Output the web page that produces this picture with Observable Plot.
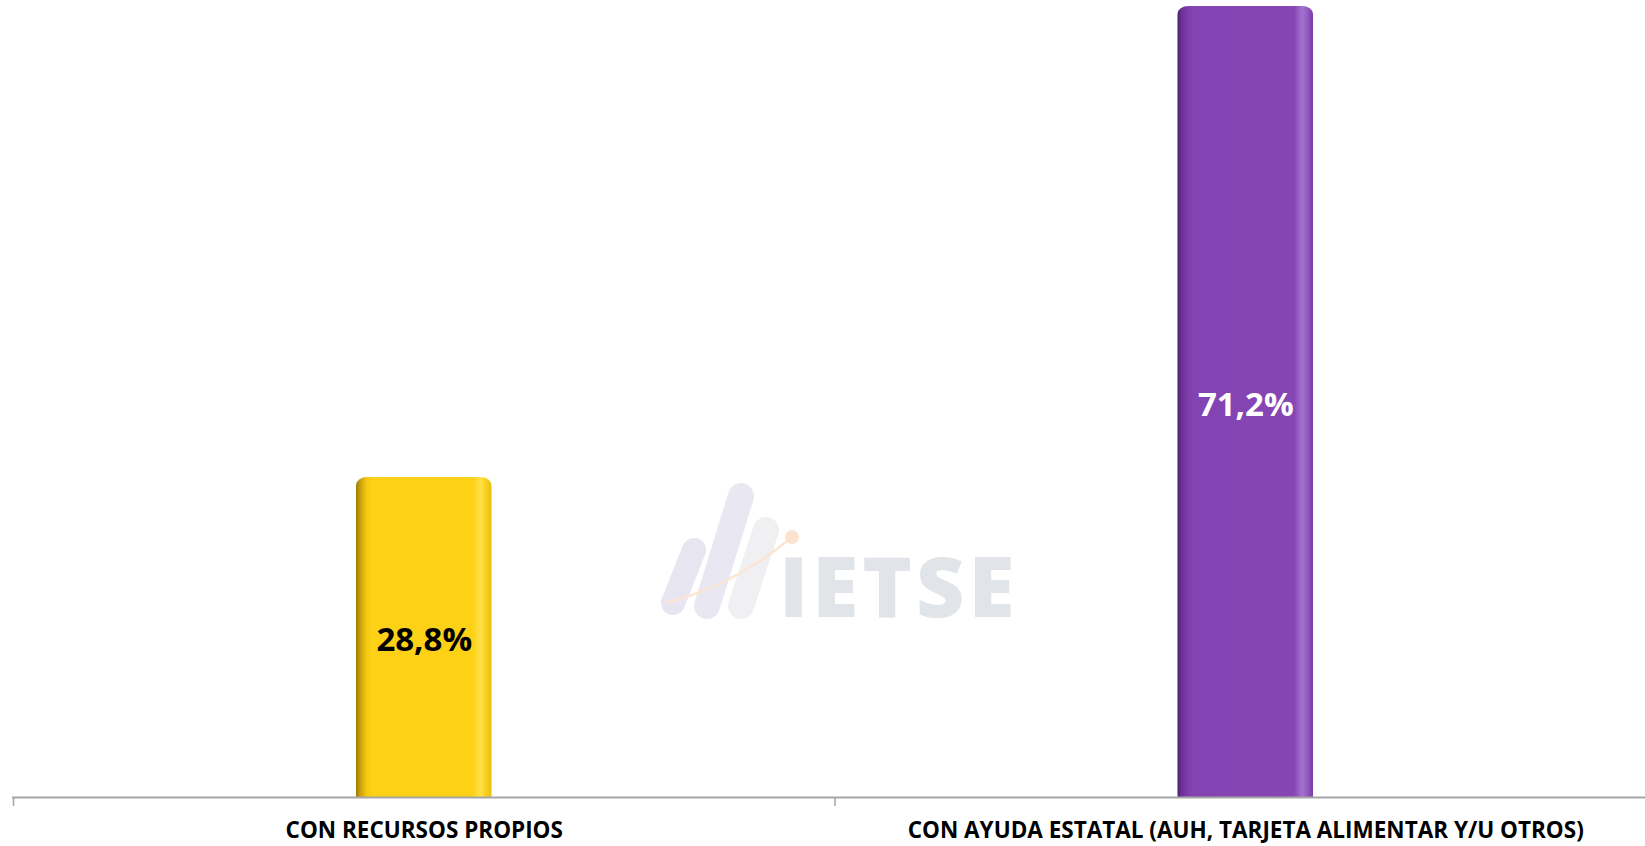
<!DOCTYPE html>
<html>
<head>
<meta charset="utf-8">
<script src="https://cdn.jsdelivr.net/npm/d3@7"></script>
<script src="https://cdn.jsdelivr.net/npm/@observablehq/plot@0.6"></script>
<style>
  html, body { margin: 0; padding: 0; background: #ffffff; }
  #wrap { position: relative; width: 1645px; height: 846px; overflow: hidden; }
  #wm { position: absolute; left: 0; top: 0; pointer-events: none; }
</style>
</head>
<body>
<div id="wrap"></div>
<script>
// ---- data ----
const categories = ["CON RECURSOS PROPIOS", "CON AYUDA ESTATAL (AUH, TARJETA ALIMENTAR Y/U OTROS)"];
const values = [28.8, 71.2];
const valueLabels = ["28,8%", "71,2%"];
const labelColors = ["#000000", "#ffffff"];

// ---- styles (gradient stops per bar) ----
const barGradients = [
  [[0, "#9c7a06"], [0.03, "#c99f0b"], [0.08, "#f6c912"], [0.12, "#fdd116"], [0.86, "#fdd116"], [0.92, "#ffe14a"], [0.96, "#f9cf18"], [1, "#e8be12"]],
  [[0, "#4a2172"], [0.03, "#6a3196"], [0.08, "#7e3fad"], [0.12, "#8443b2"], [0.86, "#8646b4"], [0.92, "#a273cf"], [0.96, "#9459c2"], [1, "#7a3aa6"]]
];

const data = categories.map((c, i) => ({i, c, v: values[i], label: valueLabels[i], color: labelColors[i]}));

const chart = Plot.plot({
  width: 1645,
  height: 846,
  marginTop: 6,
  marginBottom: 49,
  marginLeft: 12,
  marginRight: 0,
  style: {fontFamily: "'Open Sans', sans-serif", background: "#ffffff", overflow: "visible"},
  x: {domain: [0, 2], range: [13, 1656], axis: null},
  y: {domain: [0, 71.2], axis: null},
  color: {type: "identity"},
  marks: [
    Plot.rect(data, {
      x1: d => d.i, x2: d => d.i + 1, y1: () => 0, y2: "v",
      fill: d => `url(#bargrad${d.i})`,
      insetLeft: 343, insetRight: 343, insetBottom: -14,
      rx: 11, ry: 8, clip: true
    }),
    Plot.ruleY([0], {stroke: "#a6a6a6", strokeWidth: 2}),
    Plot.axisX({ticks: [0, 1, 2], tickSize: 9, tickFormat: () => "", stroke: "#a6a6a6", strokeWidth: 1.5, label: null}),
    Plot.axisX({
      ticks: categories.map((c, i) => i + 0.5), tickSize: 0, tickPadding: 25,
      tickFormat: x => categories[Math.floor(x)],
      fontSize: 22.5, fontWeight: "bold", fill: "#000000", label: null
    }),
    Plot.text(data, {
      x: d => d.i + 0.5, y: d => d.v / 2, text: "label",
      fill: "color", fontSize: 33, fontWeight: "bold", dy: 3
    })
  ]
});

// gradients
const svg = d3.select(chart);
const defs = svg.insert("defs", ":first-child");
barGradients.forEach((stops, i) => {
  const g = defs.append("linearGradient").attr("id", `bargrad${i}`)
    .attr("x1", "0").attr("x2", "1").attr("y1", "0").attr("y2", "0");
  stops.forEach(([o, c]) => g.append("stop").attr("offset", o).attr("stop-color", c));
});

document.getElementById("wrap").appendChild(chart);

// watermark logo (decorative)
document.getElementById("wrap").insertAdjacentHTML("beforeend", `
<svg id="wm" width="1645" height="846" xmlns="http://www.w3.org/2000/svg">
  <g stroke-linecap="round">
    <line x1="673" y1="603" x2="694" y2="550" stroke="#e7e5ef" stroke-width="24"/>
    <line x1="707" y1="606" x2="741" y2="496" stroke="#e9e7f1" stroke-width="26"/>
    <line x1="741" y1="606" x2="766" y2="530" stroke="#f0f0f2" stroke-width="26"/>
  </g>
  <path d="M666,603 Q735,585 792,537" fill="none" stroke="#fbe6d6" stroke-width="2.5"/>
  <circle cx="792" cy="537" r="7" fill="#fbe3cf"/>
  <text x="779" y="617" font-family="'Open Sans', sans-serif" font-weight="800" font-size="84" fill="#e1e4e8" letter-spacing="4">IETSE</text>
</svg>`);
</script>
</body>
</html>
